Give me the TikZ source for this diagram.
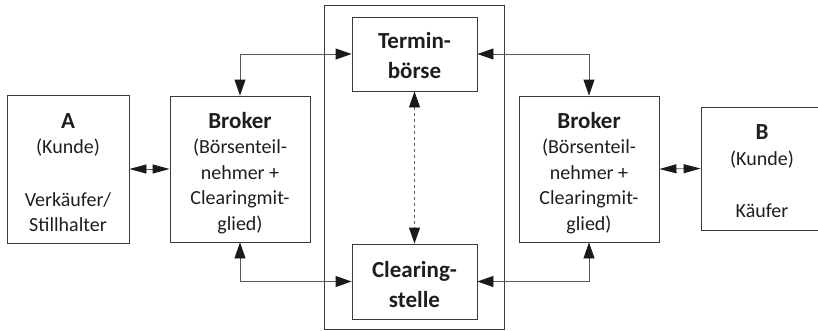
\documentclass[tikz,border=0pt]{standalone}
\usepackage{fontspec}
\setmainfont{Carlito}
\usetikzlibrary{arrows.meta}
\definecolor{ln}{HTML}{5A5A5A}
\definecolor{bx}{HTML}{3A3A3A}
\definecolor{tx}{HTML}{1E1E1E}
\definecolor{hd}{HTML}{1A1A1A}
\begin{document}
\begin{tikzpicture}[x=1pt,y=-1pt,
  box/.style={draw=bx,line width=0.9pt,rectangle,inner sep=0pt},
  txt/.style={text=tx,align=center,font=\fontsize{20}{25.5}\selectfont,inner sep=0pt},
  ttl/.style={text=tx,align=center,font=\fontsize{23}{29.5}\selectfont\bfseries,inner sep=0pt},
  tip/.style={Triangle[length=16pt,width=11pt,color=hd]},
  con/.style={draw=ln,line width=0.9pt,{Triangle[length=16pt,width=11pt,color=hd]}-{Triangle[length=16pt,width=11pt,color=hd]}},
  dcon/.style={draw=ln,line width=0.9pt,{Triangle[length=17pt,width=9pt,color=hd]}-{Triangle[length=17pt,width=9pt,color=hd]}},
]
\useasboundingbox (0,0) rectangle (818,330);
% boxes
\node[box,minimum width=180pt,minimum height=324pt] (frame) at (414,167) {};
\node[box,minimum width=122pt,minimum height=148pt] (a) at (68,169) {};
\node[box,minimum width=140pt,minimum height=146pt] (bl) at (240,169) {};
\node[box,minimum width=125pt,minimum height=74pt] (tb) at (414.5,54) {};
\node[box,minimum width=125pt,minimum height=75pt] (cs) at (414.5,281.5) {};
\node[box,minimum width=140pt,minimum height=146pt] (br) at (589,169) {};
\node[box,minimum width=122pt,minimum height=123pt] (b) at (762,168.5) {};
% texts
\newcommand{\ttlA}[1]{{\fontsize{23}{25.5}\selectfont\bfseries #1}}
\node[txt] (aT) at (68,172.5) {\ttlA{A}\\(Kunde)\\[27pt]Verkäufer/\\Stillhalter};
\node[txt] (blT) at (240,173) {\ttlA{Broker}\\(Börsenteil-\\nehmer +\\Clearingmit-\\glied)};
\node[txt] (brT) at (589,173) {\ttlA{Broker}\\(Börsenteil-\\nehmer +\\Clearingmit-\\glied)};
\node[txt] (bT) at (762,171.5) {\ttlA{B}\\(Kunde)\\[27pt]Käufer};
\node[ttl] (tbT) at (414.5,55.5) {Termin-\\börse};
\node[ttl] (csT) at (414.5,284.5) {Clearing-\\stelle};
% connectors
\draw[dcon] (a.east) -- (bl.west);
\draw[dcon] (br.east) -- (b.west);
\draw[con] (bl.north) |- (tb.west);
\draw[con] (bl.south) |- (cs.west);
\draw[con] (br.north) |- (tb.east);
\draw[con] (br.south) |- (cs.east);
\draw[con,dash pattern=on 3pt off 3pt] (tb.south) -- (cs.north);
\end{tikzpicture}
\end{document}
